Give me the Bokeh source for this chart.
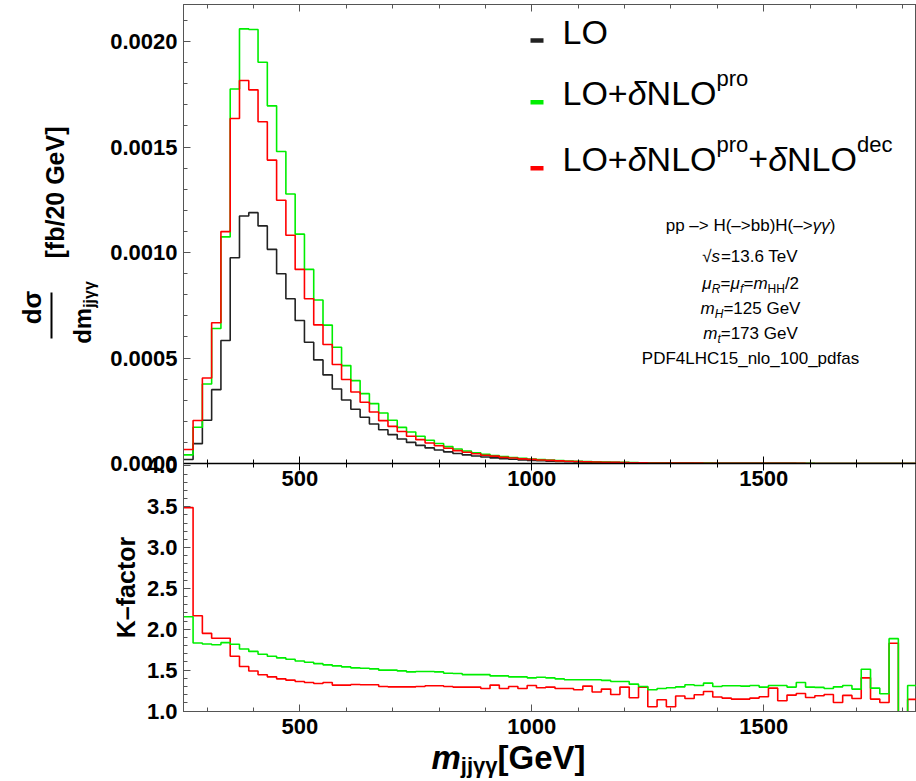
import numpy as np
from bokeh.plotting import figure
from bokeh.models import (Range1d, FixedTicker, Label, LinearAxis, BoxAnnotation,
                          Arrow, CustomJSTickFormatter, ColumnDataSource)
from bokeh.layouts import column
from bokeh.embed import file_html
from bokeh.resources import INLINE

# ---------------- data (20 GeV bins, left edges 250 ... 1810) ----------------
bin_edges = list(range(250, 1831, 20))

lo = [1.9e-5, 9.4e-5, 2.05e-4, 3.5e-4, 5.83e-4, 9.75e-4, 1.173e-3, 1.189e-3, 1.126e-3, 1.015e-3,
      8.99e-4, 7.81e-4, 6.78e-4, 5.75e-4, 4.91e-4, 4.2e-4, 3.53e-4, 3.01e-4, 2.57e-4, 2.19e-4,
      1.87e-4, 1.6e-4, 1.37e-4, 1.16e-4, 1.0e-4, 8.6e-5, 7.4e-5, 6.4e-5, 5.5e-5, 4.75e-5,
      4.1e-5, 3.55e-5, 3.05e-5, 2.65e-5, 2.3e-5, 2.0e-5, 1.72e-5, 1.5e-5, 1.3e-5, 1.13e-5,
      9.8e-6, 8.5e-6, 7.4e-6, 6.4e-6, 5.6e-6, 4.9e-6, 4.3e-6, 3.75e-6, 3.3e-6, 2.9e-6,
      2.55e-6, 2.25e-6, 2.0e-6, 1.75e-6, 1.55e-6, 1.37e-6, 1.2e-6, 1.06e-6, 9.4e-7, 8.3e-7,
      7.3e-7, 6.5e-7, 5.7e-7, 5.0e-7, 4.4e-7, 3.9e-7, 3.4e-7, 3.0e-7, 2.7e-7, 2.4e-7,
      2.1e-7, 1.85e-7, 1.6e-7, 1.4e-7, 1.25e-7, 1.1e-7, 9e-8, 8e-8, 7e-8]

lo_nlo_pro = [4.1e-5, 1.72e-4, 3.77e-4, 6.4e-4, 1.074e-3, 1.775e-3, 2.06e-3, 2.057e-3, 1.902e-3, 1.695e-3,
              1.479e-3, 1.277e-3, 1.087e-3, 9.2e-4, 7.75e-4, 6.56e-4, 5.51e-4, 4.64e-4, 3.93e-4, 3.31e-4,
              2.84e-4, 2.39e-4, 2.05e-4, 1.71e-4, 1.49e-4, 1.29e-4, 1.10e-4, 9.5e-5, 8.0e-5, 6.9e-5,
              5.9e-5, 5.1e-5, 4.4e-5, 3.8e-5, 3.3e-5, 2.84e-5, 2.44e-5, 2.11e-5, 1.84e-5, 1.59e-5,
              1.37e-5, 1.17e-5, 1.02e-5, 8.8e-6, 7.7e-6, 6.7e-6, 5.9e-6, 5.1e-6, 4.4e-6, 3.8e-6,
              3.2e-6, 2.9e-6, 2.6e-6, 2.3e-6, 2.0e-6, 1.8e-6, 1.6e-6, 1.4e-6, 1.23e-6, 1.09e-6,
              9.5e-7, 8.5e-7, 7.4e-7, 6.6e-7, 5.8e-7, 5.0e-7, 4.6e-7, 3.9e-7, 3.5e-7, 3.1e-7,
              2.7e-7, 2.4e-7, 2.0e-7, 2.1e-7, 1.6e-7, 1.3e-7, 1.7e-7, 6e-8, 9e-8]

lo_nlo_pro_dec = [6.6e-5, 2.04e-4, 4.05e-4, 6.67e-4, 1.099e-3, 1.635e-3, 1.815e-3, 1.771e-3, 1.62e-3, 1.438e-3,
                  1.248e-3, 1.082e-3, 9.2e-4, 7.81e-4, 6.57e-4, 5.64e-4, 4.69e-4, 3.98e-4, 3.39e-4, 2.9e-4,
                  2.44e-4, 2.03e-4, 1.76e-4, 1.52e-4, 1.29e-4, 1.13e-4, 9.7e-5, 8.4e-5, 7.2e-5, 6.1e-5,
                  5.3e-5, 4.6e-5, 3.9e-5, 3.5e-5, 2.9e-5, 2.6e-5, 2.19e-5, 1.97e-5, 1.67e-5, 1.46e-5,
                  1.25e-5, 1.08e-5, 9.3e-6, 8.4e-6, 6.9e-6, 6.2e-6, 5.2e-6, 4.8e-6, 3.8e-6, 3.7e-6,
                  2.7e-6, 2.6e-6, 2.1e-6, 2.1e-6, 1.8e-6, 1.6e-6, 1.5e-6, 1.24e-6, 1.09e-6, 9.5e-7,
                  8.4e-7, 7.5e-7, 6.7e-7, 6.4e-7, 5.0e-7, 4.7e-7, 4.1e-7, 3.5e-7, 3.2e-7, 2.9e-7,
                  2.3e-7, 2.2e-7, 1.8e-7, 2.0e-7, 1.4e-7, 1.2e-7, 1.6e-7, 6e-8, 8e-8]

k_pro = [2.154, 1.833, 1.82, 1.812, 1.837, 1.817, 1.76, 1.73, 1.695, 1.67,
         1.65, 1.634, 1.613, 1.597, 1.58, 1.565, 1.552, 1.54, 1.528, 1.524,
         1.516, 1.50, 1.50, 1.491, 1.479, 1.483, 1.483, 1.479, 1.462, 1.459,
         1.446, 1.446, 1.446, 1.43, 1.43, 1.418, 1.418, 1.406, 1.414, 1.406,
         1.394, 1.382, 1.382, 1.382, 1.382, 1.375, 1.361, 1.361, 1.329, 1.30,
         1.26, 1.276, 1.284, 1.296, 1.321, 1.313, 1.341, 1.30, 1.309, 1.309,
         1.305, 1.313, 1.293, 1.313, 1.313, 1.293, 1.349, 1.293, 1.289, 1.276,
         1.296, 1.313, 1.268, 1.512, 1.28, 1.211, 1.886, 0.8, 1.313]

k_pro_dec = [3.49, 2.166, 1.951, 1.89, 1.89, 1.67, 1.544, 1.49, 1.443, 1.418,
             1.394, 1.378, 1.361, 1.349, 1.337, 1.349, 1.317, 1.317, 1.324, 1.321,
             1.321, 1.30, 1.296, 1.296, 1.296, 1.30, 1.309, 1.309, 1.30, 1.293,
             1.293, 1.293, 1.276, 1.317, 1.276, 1.30, 1.276, 1.313, 1.284, 1.293,
             1.276, 1.276, 1.26, 1.305, 1.232, 1.268, 1.203, 1.293, 1.162, 1.293,
             1.052, 1.138, 1.052, 1.183, 1.154, 1.199, 1.239, 1.171, 1.158, 1.146,
             1.146, 1.158, 1.174, 1.28, 1.126, 1.195, 1.215, 1.166, 1.187, 1.203,
             1.105, 1.191, 1.154, 1.406, 1.146, 1.105, 1.829, 0.8, 1.142]

x_ticks = [500, 1000, 1500]
x_tick_labels = ["500", "1000", "1500"]
y_ticks_top = [0.0, 0.0005, 0.001, 0.0015, 0.002]
y_tick_labels_top = ["0.0000", "0.0005", "0.0010", "0.0015", "0.0020"]
y_ticks_bot = [1.0, 1.5, 2.0, 2.5, 3.0, 3.5, 4.0]
y_tick_labels_bot = ["1.0", "1.5", "2.0", "2.5", "3.0", "3.5", "4.0"]

# ---------------- styling / layout constants ----------------
FONT = "Liberation Sans"
C_LO = "#222222"
C_PRO = "#00ee00"
C_DEC = "#ff0000"
AX = "#555555"

PAGE_W = 916
PAGE_H = 780
FRAME_LEFT = 183          # page x of both frames' left edge
P1_H = 495                # top figure: frame 4..463, tick labels below
P1_TOP_B, P1_BOT_B = 4, 32
P1_FRAME_BOTTOM = P1_H - P1_BOT_B          # 463
P2_OVERLAP = 44
P2_H = 292                # bottom figure starts at 451, frame 463..711
P2_TOP_B, P2_BOT_B = 12, 32
STACK_H = P1_H - P2_OVERLAP + P2_H          # 743
MID = 0.3465              # (ascent - descent) / 2 of Liberation Sans, in em

W_REG = {' ': .278, 'p': .556, '–': .556, '>': .584, 'H': .722, '(': .333, ')': .333, 'b': .556,
         'γ': .5, '√': .549, 's': .5, '=': .584, '1': .556, '3': .556, '.': .278, '6': .556,
         'T': .611, 'e': .556, 'V': .667, 'μ': .576, 'R': .722, 'f': .278, 'm': .833, '/': .278,
         '2': .556, 'G': .778, '5': .556, 't': .278, '7': .556, 'L': .556, 'O': .778, '+': .584,
         'δ': .556, 'N': .722, 'r': .333, 'o': .556, 'd': .556, 'c': .5, 'P': .667, 'D': .722,
         'F': .611, '4': .556, 'C': .722, '_': .556, 'n': .556, 'l': .222, '0': .556, 'a': .556}
W_BOLD = {'d': .611, 'σ': .62, 'm': .889, 'j': .278, 'γ': .556, '[': .333, ']': .333, 'f': .333,
          'b': .611, '/': .278, '2': .556, '0': .556, ' ': .278, 'G': .778, 'e': .556, 'V': .667,
          'K': .722, '–': .556, 'a': .556, 'c': .556, 't': .333, 'o': .611, 'r': .389}


def text_w(t, size, style):
    tab = W_BOLD if "bold" in style else W_REG
    return sum(tab.get(ch, .556) for ch in t) * size


def add_runs(fig, fl, fb, x, y, runs, align="left", angle=0):
    """Place styled text runs, each anchored at its own centre.
    x, y: page coords of the baseline start (align='left') or baseline centre (align='center').
    fl, fb: page x of the frame's left edge, page y of its bottom edge."""
    total = sum(text_w(t, s, st) for t, s, st, _ in runs)
    pos = -total / 2 if align == "center" else 0.0
    for t, s, st, rz in runs:
        w = text_w(t, s, st)
        along = pos + w / 2
        up = rz + MID * s
        if angle == 0:
            px, py = x + along, y - up
        else:
            px, py = x - up, y - along
        fig.add_layout(Label(x=px - fl, y=fb - py, x_units="screen", y_units="screen",
                             text=t, text_font=FONT, text_font_size=f"{s}px", text_font_style=st,
                             text_color="black", text_align="center", text_baseline="middle",
                             angle=angle, angle_units="deg"))
        pos += w


def formatter(tick_values, tick_texts):
    return CustomJSTickFormatter(args=dict(tv=tick_values, tl=tick_texts), code="""
        for (let i = 0; i < tv.length; i++) {
            if (Math.abs(tick - tv[i]) <= 1e-9 * Math.max(1, Math.abs(tv[i]))) return tl[i];
        }
        return '';""")


def style_axis(ax, tick_values, minor, tick_texts, standoff=6, size="22px", line="#555555"):
    ax.ticker = FixedTicker(ticks=tick_values, minor_ticks=minor)
    ax.formatter = formatter(tick_values, tick_texts)
    ax.major_tick_in = 7
    ax.major_tick_out = 0
    ax.minor_tick_in = 4
    ax.minor_tick_out = 0
    ax.major_label_standoff = standoff
    ax.major_label_text_font = FONT
    ax.major_label_text_font_size = size
    ax.major_label_text_font_style = "bold"
    ax.major_label_text_color = "black"
    ax.axis_line_color = line
    ax.major_tick_line_color = line
    ax.minor_tick_line_color = line


x_minor = [float(v) for v in np.arange(300, 1801, 100)]
y_minor_top = [float(v) for v in np.round(np.arange(0, 0.00216, 0.0001), 6)]
y_minor_bot = [float(v) for v in np.round(np.arange(1.0, 4.05, 0.1), 3)]

xr = Range1d(249.35, 1829.1)


def ext(v):
    return list(v) + [v[-1]]


# ---------------- top panel ----------------
p1 = figure(width=PAGE_W, height=P1_H, x_range=xr, y_range=Range1d(0, 0.0021754),
            output_backend="svg", toolbar_location=None,
            min_border_left=FRAME_LEFT, min_border_right=0,
            min_border_top=P1_TOP_B, min_border_bottom=P1_BOT_B)
p1.xgrid.visible = False
p1.ygrid.visible = False
p1.outline_line_color = AX
style_axis(p1.yaxis[0], y_ticks_top, y_minor_top, y_tick_labels_top)
style_axis(p1.xaxis[0], x_ticks, x_minor, x_tick_labels, standoff=7, line="black")
p1.xaxis[0].axis_line_width = 1.3
ax_top1 = LinearAxis()
style_axis(ax_top1, x_ticks, x_minor, ["", "", ""], standoff=0, size="0px")
p1.add_layout(ax_top1, "above")

src_top = ColumnDataSource(dict(x=bin_edges, lo=ext(lo), pro=ext(lo_nlo_pro), dec=ext(lo_nlo_pro_dec)))
p1.step("x", "lo", source=src_top, mode="after", line_color=C_LO, line_width=1.6)
p1.step("x", "pro", source=src_top, mode="after", line_color=C_PRO, line_width=1.6)
p1.step("x", "dec", source=src_top, mode="after", line_color=C_DEC, line_width=1.6)

# legend swatches + legend texts
for cy, col in zip((40, 101.7, 167.7), (C_LO, C_PRO, C_DEC)):
    p1.add_layout(BoxAnnotation(left=530 - FRAME_LEFT, right=543 - FRAME_LEFT,
                                bottom=P1_FRAME_BOTTOM - cy - 2.3, top=P1_FRAME_BOTTOM - cy + 2.3,
                                left_units="screen", right_units="screen",
                                bottom_units="screen", top_units="screen",
                                fill_color=col, fill_alpha=1.0, line_color=None))

LG = 34
SUP = 22
RZ = 18
fb1 = P1_FRAME_BOTTOM
add_runs(p1, FRAME_LEFT, fb1, 562, 43.5, [("LO", LG, "normal", 0)])
add_runs(p1, FRAME_LEFT, fb1, 562, 104, [("LO+", LG, "normal", 0), ("δ", LG, "italic", 0),
                                         ("NLO", LG, "normal", 0), ("pro", SUP, "normal", RZ)])
add_runs(p1, FRAME_LEFT, fb1, 562, 170, [("LO+", LG, "normal", 0), ("δ", LG, "italic", 0),
                                         ("NLO", LG, "normal", 0), ("pro", SUP, "normal", RZ),
                                         ("+", LG, "normal", 0), ("δ", LG, "italic", 0),
                                         ("NLO", LG, "normal", 0), ("dec", SUP, "normal", RZ)])

# info block
IF = 17
SB = 12
CX = 750
add_runs(p1, FRAME_LEFT, fb1, CX, 231, [("pp –> H(–>bb)H(–>", IF, "normal", 0), ("γγ", IF, "italic", 0),
                                        (")", IF, "normal", 0)], align="center")
add_runs(p1, FRAME_LEFT, fb1, CX, 262, [("√", IF, "normal", 0), ("s", IF, "italic", 0),
                                        ("=13.6 TeV", IF, "normal", 0)], align="center")
add_runs(p1, FRAME_LEFT, fb1, CX, 289, [("μ", IF, "italic", 0), ("R", SB, "italic", -4),
                                        ("=", IF, "normal", 0), ("μ", IF, "italic", 0),
                                        ("f", SB, "italic", -4), ("=", IF, "normal", 0),
                                        ("m", IF, "italic", 0), ("HH", SB, "normal", -4),
                                        ("/2", IF, "normal", 0)], align="center")
add_runs(p1, FRAME_LEFT, fb1, CX, 314, [("m", IF, "italic", 0), ("H", SB, "italic", -4),
                                        ("=125 GeV", IF, "normal", 0)], align="center")
add_runs(p1, FRAME_LEFT, fb1, CX, 339, [("m", IF, "italic", 0), ("t", SB, "italic", -4),
                                        ("=173 GeV", IF, "normal", 0)], align="center")
add_runs(p1, FRAME_LEFT, fb1, CX, 364, [("PDF4LHC15_nlo_100_pdfas", IF, "normal", 0)], align="center")

# ---------------- bottom panel (K-factor) ----------------
p2 = figure(width=PAGE_W, height=P2_H, x_range=xr, y_range=Range1d(0.994, 4.03),
            output_backend="svg", toolbar_location=None,
            min_border_left=FRAME_LEFT, min_border_right=0,
            min_border_top=P2_TOP_B, min_border_bottom=P2_BOT_B,
            margin=(-P2_OVERLAP, 0, 0, 0))
p2.border_fill_color = None
p2.background_fill_color = None
p2.xgrid.visible = False
p2.ygrid.visible = False
p2.outline_line_color = AX
style_axis(p2.yaxis[0], y_ticks_bot, y_minor_bot, y_tick_labels_bot)
style_axis(p2.xaxis[0], x_ticks, x_minor, x_tick_labels, standoff=7)
p2.yaxis[0].axis_label = "K–factor"
p2.yaxis[0].axis_label_text_font = FONT
p2.yaxis[0].axis_label_text_font_size = "25px"
p2.yaxis[0].axis_label_text_font_style = "bold"
p2.yaxis[0].axis_label_text_color = "black"
p2.yaxis[0].axis_label_standoff = 4
ax_top2 = LinearAxis()
style_axis(ax_top2, x_ticks, x_minor, ["", "", ""], standoff=0, size="0px", line="black")
p2.add_layout(ax_top2, "above")

src_bot = ColumnDataSource(dict(x=bin_edges, pro=ext(k_pro), dec=ext(k_pro_dec)))
p2.step("x", "dec", source=src_bot, mode="after", line_color=C_DEC, line_width=1.6)
p2.step("x", "pro", source=src_bot, mode="after", line_color=C_PRO, line_width=1.6)

# ---------------- transparent overlay for the titles outside the frames ----------------
ov = figure(width=PAGE_W, height=PAGE_H, x_range=Range1d(0, 1), y_range=Range1d(0, 1),
            x_axis_type=None, y_axis_type=None, output_backend="svg", toolbar_location=None,
            title=None, min_border_left=0, min_border_right=0, min_border_top=0, min_border_bottom=0,
            frame_align=False, margin=(-STACK_H, 0, 0, 0))
ov.outline_line_color = None
ov.grid.visible = False
ov.border_fill_color = None
ov.background_fill_color = None

# y title of the top panel (rotated fraction)
add_runs(ov, 0, PAGE_H, 41, 307, [("dσ", 26, "bold", 0)], align="center", angle=90)
add_runs(ov, 0, PAGE_H, 90, 312, [("dm", 24, "bold", 0), ("jjγγ", 16, "bold", -5)], align="center", angle=90)
add_runs(ov, 0, PAGE_H, 63, 192, [("[fb/20 GeV]", 25, "bold", 0)], align="center", angle=90)
ov.add_layout(Arrow(end=None, x_start=51, y_start=PAGE_H - 292, x_end=51, y_end=PAGE_H - 338,
                    start_units="screen", end_units="screen", line_width=2, line_color="black"))
# x title of the bottom panel
add_runs(ov, 0, PAGE_H, 508, 768, [("m", 33, "bold italic", 0), ("jjγγ", 22, "bold", -5),
                                    ("[GeV]", 33, "bold", 0)], align="center")

layout = column(p1, p2, ov)
open("out.html", "w").write(file_html(layout, INLINE))
